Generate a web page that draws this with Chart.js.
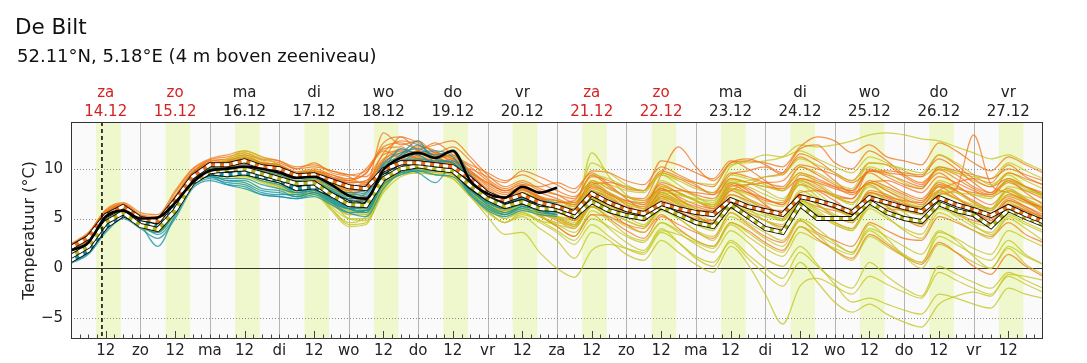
<!DOCTYPE html>
<html>
<head>
<meta charset="utf-8">
<script src="https://cdn.jsdelivr.net/npm/chart.js@4"></script>
<style>
html, body { margin: 0; padding: 0; background: #fff; }
#wrap { position: relative; width: 1087px; height: 363px; font-family: "DejaVu Sans", sans-serif; color: #111; }
#title { position: absolute; left: 15px; top: 14px; font-size: 21.5px; white-space: nowrap; }
#sub { position: absolute; left: 17px; top: 45px; font-size: 18px; white-space: nowrap; }
canvas { position: absolute; left: 0; top: 0; }
</style>
</head>
<body>
<div id="wrap">
  <canvas id="chart" width="1087" height="363" style="width:1087px;height:363px"></canvas>
  <div id="title">De Bilt</div>
  <div id="sub">52.11°N, 5.18°E (4 m boven zeeniveau)</div>
</div>
<script>
// time axis: hours since 14.12 00:00, one value every 6 hours
const stepH = 6;
const dayNames = ['za', 'zo', 'ma', 'di', 'wo', 'do', 'vr'];
const dateLabels = ['14.12', '15.12', '16.12', '17.12', '18.12', '19.12', '20.12',
  '21.12', '22.12', '23.12', '24.12', '25.12', '26.12', '27.12'];
const yTicks = [-5, 0, 5, 10];
const nowH = 10.7;
const dayFrom = 8.7, dayTo = 17.2;

// ensemble members (orange group), 14.12 00h .. 28.12 00h
const orange = [
  [2.3,3.4,5.6,6.4,5.2,5.0,7.2,9.6,10.8, 10.9,11.2,10.6,10.3,9.6,9.8,9.4,9.0, 9.5,12.6,13.2,11.8,11.4,10.8,9.4,8.0,7.2,7.9,7.0,6.8, 6.2,8.8,8.0,7.2,7.0,9.6,9.0,8.2,7.6,9.4,9.8,10.2,9.4,11.5,10.8,9.6,8.8,10.6,10.4,9.2,8.4,9.9,9.0,8.0,7.4,8.6,7.8,7.0],
  [2.0,3.0,5.3,6.2,5.0,4.6,6.8,9.4,10.5, 10.2,10.4,9.6,9.4,8.6,8.8,8.0,7.4, 8.2,10.4,11.8,11.6,11.0,11.4,9.8,8.2,7.4,8.2,7.6,7.0, 6.4,7.6,7.2,6.0,5.4,6.8,6.0,5.2,4.6,6.2,5.6,4.8,4.2,6.8,6.2,5.8,5.4,7.6,7.0,6.4,6.2,8.2,7.8,6.6,5.8,7.4,6.8,5.6],
  [2.5,3.6,5.8,6.5,5.4,5.2,7.6,9.9,10.9, 11.2,11.6,11.0,10.8,10.0,10.6,9.6,9.2, 8.4,13.6,12.4,12.8,11.6,12.2,10.8,9.0,8.0,8.6,7.8,7.4, 7.0,9.2,8.8,8.0,7.8,10.8,10.4,9.6,9.0,10.8,10.0,8.8,7.8,9.0,8.4,7.2,6.6,8.6,8.8,8.2,7.6,9.2,8.6,7.8,7.2,8.0,7.0,6.0],
  [1.9,2.9,5.1,6.0,4.8,4.4,6.5,9.0,10.2, 9.8,9.9,9.2,9.0,8.2,8.4,7.4,6.6, 7.6,9.6,10.8,11.0,10.8,10.6,9.2,7.6,6.6,7.0,6.0,5.2, 4.4,6.2,5.0,3.8,3.0,5.2,4.4,3.6,3.0,5.6,4.4,3.2,2.6,4.8,3.6,2.8,2.2,4.6,3.8,3.0,2.8,5.2,4.6,3.8,3.2,4.6,3.4,2.6],
  [2.2,3.2,5.4,6.3,5.1,4.8,7.0,9.5,10.6, 10.7,11.1,10.5,10.2,9.5,9.7,9.1,8.8, 10.0,12.0,12.2,11.2,10.6,11.0,9.6,8.6,7.8,8.4,8.2,8.6, 8.0,9.6,8.4,7.0,6.0,9.4,12.2,10.2,8.8,10.6,11.0,10.4,9.6,11.2,10.2,8.8,7.6,8.4,7.2,6.4,6.0,7.8,8.6,9.0,8.6,10.4,9.2,8.4],
  [2.0,3.1,5.2,6.1,4.9,4.7,6.9,9.3,10.4, 10.0,10.2,9.4,9.2,8.4,8.8,8.2,7.6, 8.0,10.2,11.4,12.2,11.8,10.4,8.8,7.4,6.6,7.2,6.4,5.8, 5.0,7.0,6.4,5.6,5.2,7.4,6.6,5.4,4.4,6.0,5.0,4.0,3.6,6.0,5.4,4.6,4.0,6.4,6.0,5.8,5.6,7.6,7.0,6.2,5.4,7.0,6.2,5.2],
  [2.4,3.5,5.7,6.4,5.3,5.1,7.3,9.7,10.7, 11.0,11.4,10.9,10.6,10.0,10.2,9.8,9.4, 9.2,11.4,11.8,11.0,10.2,9.8,8.6,7.2,6.4,7.4,7.0,6.2, 5.8,8.0,7.4,6.8,6.6,8.4,7.6,6.8,6.0,7.8,8.4,9.2,9.6,12.0,12.4,10.6,10.0,11.8,10.8,9.4,8.6,10.0,9.4,8.2,7.6,9.6,9.0,8.4],
  [2.1,3.0,5.2,6.1,4.9,4.6,6.7,9.2,10.3, 10.4,10.8,10.2,9.9,9.2,9.4,8.6,7.8, 7.2,9.0,10.2,10.8,10.4,10.6,8.4,6.8,5.8,6.4,5.6,4.8, 4.0,6.2,5.8,5.2,5.0,7.2,6.4,5.6,5.4,8.0,7.6,7.0,6.4,8.4,7.8,6.8,5.8,7.4,6.2,5.0,4.2,6.4,5.6,4.8,4.6,6.8,6.0,5.0],
  [2.3,3.3,5.5,6.3,5.1,4.9,7.1,9.5,10.6, 10.7,11.0,10.5,10.2,9.5,9.7,9.2,8.8, 9.6,11.8,11.0,10.2,9.8,10.2,10.0,9.2,8.6,9.8,9.2,8.4, 7.6,9.8,9.6,8.8,8.4,10.2,9.4,8.6,8.2,10.6,10.8,10.6,10.2,12.2,13.2,12.8,11.6,12.4,11.2,10.8,10.4,12.6,11.8,10.6,9.8,11.2,10.4,9.6],
  [2.0,2.9,5.1,6.0,4.8,4.5,6.6,9.1,10.2, 9.6,9.8,9.2,9.0,8.0,8.2,7.2,6.4, 7.0,8.8,10.4,11.4,11.6,11.0,9.6,7.8,6.2,6.6,5.4,4.2, 3.2,5.4,5.2,4.4,4.0,6.0,5.6,5.0,4.8,6.6,6.2,5.8,5.6,7.6,7.8,7.4,7.0,8.8,8.2,7.4,6.8,8.2,7.2,5.8,4.8,6.4,5.8,4.6],
  [2.2,3.2,5.4,6.2,5.0,4.8,7.0,9.4,10.5, 10.6,11.0,10.4,10.1,9.4,9.6,9.0,8.6, 8.8,10.8,12.0,11.4,10.8,10.6,9.0,7.6,7.0,7.6,6.8,6.4, 6.0,8.4,8.6,8.2,7.8,9.8,9.2,8.4,7.4,8.6,7.8,6.4,5.4,7.0,6.6,6.0,5.4,7.8,7.4,6.6,6.0,7.4,8.0,13.4,8.4,7.6,6.8,6.0],
  [2.1,3.1,5.3,6.2,5.0,4.7,6.9,9.3,10.4, 10.5,10.9,10.3,10.0,9.3,9.5,8.9,8.3, 8.6,10.6,11.4,11.0,10.4,10.8,9.4,7.8,6.8,7.4,6.4,5.6, 5.2,7.4,6.8,6.0,5.8,8.2,7.6,6.8,6.2,8.6,8.0,7.0,6.4,9.0,8.6,8.0,7.6,9.8,9.4,8.8,8.2,9.6,8.4,7.2,6.4,7.8,6.8,5.8],
  [1.9,2.8,5.0,5.9,4.7,4.3,6.4,8.9,10.0, 9.8,10.0,9.3,9.0,8.2,8.4,7.6,6.8, 6.8,8.4,9.8,10.4,10.6,10.0,8.6,7.0,5.8,6.6,5.8,5.0, 4.2,6.6,5.6,4.4,3.6,5.4,4.0,2.8,2.2,4.6,3.8,2.6,1.8,4.2,3.0,1.8,1.0,3.4,2.4,1.2,0.4,2.6,1.6,0.2,-0.6,1.4,0.2,-0.8],
  [2.2,3.3,5.5,6.3,5.1,4.8,7.0,9.4,10.5, 10.8,11.2,10.6,10.4,9.7,10.0,9.4,8.8, 8.6,11.6,12.8,12.4,11.2,10.4,9.8,8.4,7.6,8.0,7.2,6.6, 6.8,9.4,8.2,7.2,6.8,8.0,7.0,6.0,5.6,7.4,6.8,6.0,5.8,8.8,8.0,7.2,7.0,9.8,9.6,9.4,9.2,11.4,10.4,9.0,8.2,9.0,8.2,7.4],
  [2.4,3.5,5.9,6.6,5.6,5.4,7.8,10.0,11.0, 11.4,11.8,11.2,10.8,10.2,10.4,9.8,9.4, 9.8,12.2,12.6,12.0,12.4,12.8,11.2,9.4,8.2,8.8,8.0,7.4, 6.6,8.4,7.4,6.6,6.2,8.0,7.2,6.4,6.0,8.4,7.6,6.8,6.6,9.4,8.8,8.2,7.8,10.0,9.2,8.4,8.0,10.2,9.8,9.4,9.0,10.0,9.4,8.8],
  [2.0,3.0,5.0,6.0,4.8,4.5,6.6,9.0,10.1, 10.2,10.4,9.8,9.6,9.0,9.4,8.6,8.0, 8.4,10.8,13.2,12.6,11.6,11.2,10.2,8.8,7.8,8.4,7.2,6.2, 5.4,7.8,7.0,6.2,5.8,7.6,6.8,6.2,5.8,7.8,7.0,6.2,5.6,7.4,6.4,5.2,4.6,6.8,6.4,5.8,5.4,7.2,6.4,5.6,5.0,6.4,5.8,5.2],
  [2.3,3.4,5.6,6.4,5.3,5.0,7.2,9.6,10.6, 10.6,11.0,10.6,10.4,9.6,9.8,9.2,8.6, 8.8,11.0,11.6,11.8,12.6,11.4,10.4,9.6,8.8,9.4,8.6,7.8, 7.2,8.6,7.6,6.4,5.6,7.0,6.2,5.8,5.8,8.2,8.4,8.6,8.8,10.4,10.0,9.4,8.6,9.6,8.6,7.6,7.0,8.6,7.8,6.8,6.0,7.2,6.6,6.2],
  [1.9,2.9,5.2,6.1,4.9,4.6,6.8,9.2,10.3, 10.3,10.6,10.0,9.7,9.0,9.2,8.4,7.8, 8.0,9.8,10.6,11.0,10.8,10.6,9.0,7.6,7.0,7.8,7.2,6.8, 6.4,8.2,7.6,6.8,6.4,8.6,8.0,7.4,7.0,9.0,8.6,8.2,8.0,9.6,9.0,8.2,7.4,8.6,7.8,7.0,6.4,7.8,7.0,6.0,5.2,6.8,6.2,5.4],
  [2.2,3.3,5.5,6.3,5.2,4.9,7.1,9.5,10.6, 10.5,10.8,10.3,10.0,9.4,9.6,9.0,8.4, 8.2,10.0,11.2,11.6,11.4,11.0,9.8,8.6,7.8,8.0,7.0,6.0, 4.8,6.8,6.4,5.8,5.4,7.8,7.8,7.6,7.4,9.6,9.2,8.6,8.2,10.2,9.4,8.4,7.8,9.8,9.8,9.6,9.4,11.0,10.0,8.6,7.6,8.8,7.6,6.4],
  [2.1,3.1,5.2,6.1,5.0,4.7,6.9,9.3,10.4, 10.4,10.7,10.1,9.8,9.1,9.3,8.6,8.0, 7.8,9.4,10.8,11.8,11.2,10.4,8.8,7.2,6.2,7.0,6.4,5.8, 5.4,7.2,6.4,5.4,4.8,6.6,5.8,4.8,4.2,6.4,6.0,5.6,5.4,7.4,6.8,6.0,5.6,7.6,7.2,6.8,6.6,8.4,8.0,7.6,7.4,8.8,8.2,7.6]
];

// ensemble members (yellow-green group), 14.12 00h .. 28.12 00h
const yellow = [
  [1.3,2.3,4.7,5.7,4.4,4.0,5.9,8.7,9.8, 10.4,11.0,10.0,9.6,8.8,9.0,7.6,6.4, 5.8,8.6,10.0,10.4,10.0,10.2,8.4,6.8,5.6,6.2,5.2,4.4, 3.6,5.4,4.0,2.6,1.8,4.0,2.6,1.0,0.2,2.8,1.4,0.0,-1.0,1.6,0.2,-1.2,-2.0,0.6,-0.8,-2.0,-2.8,0.2,-0.6,-1.4,-2.0,-0.4,-1.2,-2.0],
  [1.0,2.0,4.4,5.4,4.1,3.6,5.6,8.4,9.6, 9.4,9.6,9.0,8.6,7.6,7.8,6.0,4.4, 4.6,7.8,9.6,10.2,10.2,9.8,7.6,5.8,4.6,5.2,4.0,2.8, 1.0,3.6,2.8,1.4,0.8,2.8,1.6,0.4,-0.4,2.2,0.4,-2.6,-5.6,-1.8,-1.0,-1.8,-2.6,-0.8,-1.6,-2.4,-3.0,-0.4,-1.2,-2.0,-2.6,-0.8,-1.6,-2.4],
  [1.1,2.1,4.5,5.5,4.2,3.8,5.7,8.5,9.7, 9.9,10.1,9.5,9.1,8.5,8.7,7.4,6.2, 5.4,8.2,9.4,9.8,9.6,9.4,7.8,6.2,5.0,5.6,4.6,3.6, 2.4,4.4,3.2,2.0,1.4,3.6,2.6,1.2,0.6,2.6,1.0,-0.6,-1.8,0.6,-1.4,-3.4,-4.4,-3.6,-4.6,-5.4,-5.9,-3.6,-2.8,-2.4,-2.8,-0.6,-0.8,-1.2],
  [1.2,2.2,4.6,5.6,4.3,3.9,5.8,8.6,9.8, 10.2,10.6,9.8,9.2,8.4,8.6,6.8,5.0, 4.8,7.6,9.2,9.6,9.4,9.0,7.2,5.2,3.4,3.6,1.6,0.0, -0.9,1.8,2.4,2.0,1.6,3.8,3.4,2.6,2.0,4.4,3.2,2.0,1.2,3.6,2.8,2.0,1.4,4.4,3.0,1.2,0.0,2.4,1.6,0.6,0.0,2.2,1.2,0.4],
  [1.4,2.4,4.8,5.8,4.5,4.1,6.0,8.8,9.9, 10.6,11.4,10.6,10.0,9.4,9.6,8.6,7.6, 6.8,9.6,10.8,11.2,10.6,10.4,9.0,7.6,6.8,7.6,7.0,6.8, 6.4,8.6,8.4,7.8,7.6,9.4,8.8,8.0,7.6,10.2,10.8,11.4,11.2,11.8,11.0,10.2,9.6,11.2,10.6,9.8,9.2,10.2,9.6,8.8,8.2,9.6,8.8,8.0],
  [1.3,2.3,4.7,5.7,4.4,4.0,5.9,8.7,9.8, 10.0,10.2,9.7,9.3,8.7,8.9,7.8,6.8, 6.6,9.4,10.4,10.6,10.2,10.0,8.8,7.4,6.6,7.2,6.6,6.4, 6.2,10.6,9.6,8.4,7.8,9.6,9.0,8.6,8.4,10.4,10.6,10.8,11.2,12.4,12.2,12.4,12.8,13.4,13.6,13.4,13.0,12.8,12.2,11.6,11.0,11.4,10.6,9.8],
  [1.1,2.1,4.5,5.5,4.2,3.8,5.7,8.5,9.6, 9.2,9.4,8.8,8.2,7.4,7.6,6.4,5.4, 6.0,9.2,10.6,10.8,10.4,10.0,8.2,6.6,5.8,6.4,5.8,5.2, 4.6,7.0,6.4,5.6,5.2,7.2,6.6,5.8,5.2,7.4,6.6,5.6,4.8,6.8,5.8,4.6,4.0,6.4,5.2,3.8,3.0,5.6,4.8,3.8,3.0,5.2,4.4,3.6],
  [1.2,2.2,4.6,5.6,4.3,3.9,5.8,8.6,9.7, 9.9,10.0,9.5,9.0,8.5,8.6,7.2,6.2, 6.8,9.8,10.4,10.2,9.8,9.6,8.0,6.4,5.6,6.6,6.2,5.8, 5.6,11.6,9.2,7.4,6.4,8.0,7.0,5.6,4.8,6.8,6.2,5.4,5.0,7.8,7.0,6.4,6.0,8.6,8.0,7.2,6.6,8.8,8.2,7.4,7.0,9.0,8.2,7.4],
  [1.0,2.0,4.4,5.4,4.1,3.7,5.6,8.4,9.5, 9.0,9.2,8.6,8.0,7.2,7.4,5.8,4.2, 4.4,8.0,9.8,10.2,10.0,9.6,7.8,6.0,5.2,6.0,5.4,5.0, 4.4,6.6,5.8,4.8,4.2,6.0,5.0,3.8,3.2,5.6,4.6,3.6,2.8,5.0,4.0,2.6,1.6,3.8,2.6,1.4,0.6,3.6,3.0,2.0,1.4,3.8,3.0,2.2],
  [1.3,2.3,4.7,5.7,4.4,4.0,5.9,8.7,9.8, 10.4,10.8,10.2,9.6,9.0,9.2,7.8,6.6, 6.2,8.8,9.8,10.0,9.8,9.4,7.8,6.2,5.4,6.2,5.2,4.2, 3.2,5.8,4.8,3.4,2.8,4.6,3.6,2.4,1.6,3.8,2.6,1.0,0.2,2.2,0.4,-1.6,-3.4,-3.0,-3.6,-4.2,-4.6,-2.6,-3.0,-3.6,-4.0,-2.0,-2.6,-3.0],
  [1.4,2.4,4.8,5.8,4.5,4.1,6.0,8.8,9.9, 10.8,11.6,10.8,10.2,9.6,9.8,8.8,7.8, 6.6,9.2,10.2,10.4,10.0,9.8,8.6,7.2,6.4,7.0,6.4,6.2, 5.8,7.6,6.6,5.2,4.4,6.2,5.4,4.4,3.8,6.4,5.6,4.8,4.4,6.6,5.6,4.4,3.8,6.0,5.0,4.0,3.4,6.0,5.4,4.6,4.2,6.6,5.8,5.0],
  [1.2,2.2,4.6,5.6,4.3,3.9,5.8,8.6,9.7, 9.4,9.6,9.0,8.4,7.6,7.8,6.6,5.4, 5.4,8.4,9.6,10.0,9.8,9.6,8.0,6.4,5.6,6.4,5.6,5.2, 4.8,6.8,6.0,5.4,5.2,7.6,7.4,7.0,6.8,9.0,8.6,7.8,7.0,8.6,7.6,6.2,5.2,7.6,6.8,5.6,4.6,6.6,5.6,4.4,3.4,5.0,4.0,2.8],
  [1.1,2.1,4.5,5.5,4.2,3.8,5.7,8.5,9.6, 9.8,9.9,9.4,9.0,8.4,8.5,7.2,6.0, 5.6,8.4,10.2,10.8,10.4,10.2,8.6,7.0,6.0,7.0,6.6,6.6, 6.6,9.4,9.0,8.2,7.8,9.4,8.4,7.2,6.4,8.4,8.8,9.2,9.4,11.0,10.4,9.6,8.8,10.2,9.6,8.6,8.0,10.0,9.6,9.2,9.0,10.6,9.8,9.0],
  [1.2,2.2,4.6,5.6,4.3,3.9,5.8,8.6,9.7, 9.6,9.8,9.2,8.7,8.0,8.2,6.8,5.6, 6.0,8.6,9.8,10.2,9.8,9.6,8.0,6.6,5.8,6.4,5.6,5.0, 4.2,6.2,5.2,4.2,3.6,5.8,5.0,3.8,2.8,5.2,4.2,3.0,2.2,4.8,3.4,1.8,0.8,3.2,2.2,1.2,0.6,3.2,2.4,1.4,0.8,2.8,1.4,0.4],
  [1.3,2.3,4.7,5.7,4.4,4.0,5.9,8.7,9.8, 10.2,10.6,10.0,9.6,9.0,9.2,8.0,7.0, 6.4,9.0,10.0,10.2,10.0,9.8,8.4,7.0,6.2,6.8,6.2,5.8, 5.2,8.8,8.0,7.2,6.8,8.8,8.0,7.2,6.6,9.4,9.0,8.4,7.8,10.2,9.6,8.6,8.0,10.6,10.4,10.0,9.6,11.4,10.6,9.4,8.4,9.4,8.2,7.2],
  [1.0,2.0,4.4,5.4,4.1,3.7,5.6,8.4,9.5, 9.2,9.3,8.7,8.2,7.4,7.6,6.0,4.6, 5.2,8.2,9.6,10.0,9.8,9.4,7.6,5.8,4.6,5.6,4.8,3.8, 2.8,5.0,4.2,3.2,2.6,4.6,3.8,2.8,2.2,4.6,3.6,2.4,1.6,4.2,3.4,2.4,1.6,4.0,3.2,2.2,1.4,3.8,2.8,1.2,0.0,2.0,0.4,-0.6],
  [1.4,2.5,4.9,5.9,4.6,4.2,6.2,9.0,10.2, 11.0,11.8,11.2,10.4,9.6,9.8,8.6,7.4, 7.0,9.4,10.6,11.0,10.8,10.6,9.2,7.8,7.0,7.6,6.8,6.2, 5.8,8.2,7.0,5.8,5.2,7.6,6.8,6.0,5.6,8.0,7.4,6.6,6.2,8.8,8.2,7.2,6.4,8.6,7.8,6.8,6.2,8.4,7.6,6.6,6.0,7.8,7.2,6.6],
  [1.1,2.1,4.5,5.5,4.2,3.8,5.8,8.6,9.7, 9.6,9.8,9.2,8.6,7.8,8.0,6.8,5.8, 5.8,8.6,9.4,9.6,9.4,9.2,7.6,6.0,5.0,5.8,5.4,5.2, 5.0,7.8,7.2,6.4,6.0,8.2,7.6,6.8,6.2,8.0,7.0,5.8,5.0,7.2,6.4,5.4,4.8,7.0,6.2,5.2,4.6,6.8,6.4,6.0,5.8,7.4,6.6,5.8],
  [1.2,2.2,4.6,5.6,4.3,3.9,5.9,8.8,10.0, 10.6,11.2,10.4,9.8,9.0,9.2,7.8,6.6, 6.4,9.0,10.4,10.6,10.4,10.2,8.6,7.0,6.2,7.2,6.8,6.4, 6.0,8.4,7.6,6.6,6.0,7.8,7.4,6.8,6.4,8.8,8.6,8.2,7.8,9.6,8.6,7.4,6.6,8.2,7.4,6.6,6.0,7.6,7.0,6.4,6.0,8.2,7.8,7.4],
  [1.0,2.0,4.4,5.4,4.1,3.6,5.5,8.3,9.4, 9.2,9.4,8.8,8.2,7.4,7.6,6.2,5.0, 5.0,8.2,9.6,9.8,9.4,9.0,7.2,5.6,4.6,5.4,4.8,4.4, 4.0,6.2,5.6,4.8,4.2,6.0,5.4,4.6,4.0,6.2,5.8,5.2,4.8,6.8,6.0,5.2,4.6,6.6,5.8,5.0,4.4,6.2,5.2,4.2,3.6,5.4,4.6,3.8],
  [1.3,2.3,4.7,5.7,4.4,4.0,6.0,8.8,9.9, 10.4,11.0,10.4,10.0,9.2,9.4,8.2,7.0, 6.6,8.8,9.8,10.0,9.6,9.4,8.0,6.8,6.0,6.6,6.0,5.6, 5.4,7.0,6.2,5.6,5.2,7.0,6.8,6.6,6.4,8.6,8.2,7.4,6.8,8.4,7.2,6.0,5.2,7.2,6.4,5.8,5.4,7.8,7.6,7.4,7.2,8.8,8.0,7.2],
  [1.2,2.2,4.6,5.6,4.3,3.9,5.8,8.6,9.7, 9.8,10.0,9.4,8.9,8.2,8.4,7.0,5.8, 5.6,8.4,10.4,10.8,10.2,9.8,8.0,6.4,5.4,6.0,5.2,4.6, 4.4,7.2,6.6,5.8,5.4,7.4,6.4,5.2,4.4,6.8,6.0,4.8,4.0,6.4,5.4,4.4,3.8,6.2,5.6,5.0,4.6,7.0,6.6,6.2,6.0,7.8,7.0,6.2]
];

// ensemble members (teal group), 14.12 00h .. 21.12 00h
const teal = [
  [0.7,1.6,4.0,5.8,4.4,2.2,5.4,8.6,9.4, 9.2,9.4,8.8,8.4,7.6,7.8,6.8,6.0, 6.2,9.6,10.6,10.8,10.4,10.2,8.0,6.6,6.0,6.4,6.0,5.8],
  [0.9,1.9,4.4,5.6,4.8,4.4,6.6,9.2,10.0, 9.8,10.0,9.6,9.2,8.4,8.6,8.0,7.4, 7.6,10.4,11.2,12.4,11.0,10.6,8.6,7.2,6.4,6.8,6.2,5.8],
  [0.6,1.6,3.8,5.2,4.2,3.6,5.6,8.2,9.0, 8.6,8.4,7.6,7.4,7.4,7.8,7.0,6.2, 6.0,8.8,9.8,10.2,9.8,9.6,7.8,6.6,6.0,6.6,6.4,6.2],
  [1.0,2.0,4.4,5.6,4.8,4.6,6.8,9.0,9.8, 9.6,9.8,9.4,9.0,8.2,8.4,7.6,6.8, 6.8,9.8,12.0,11.4,10.6,10.8,9.0,7.6,6.8,7.2,6.8,6.6],
  [0.8,1.8,4.2,5.4,4.6,4.0,6.0,8.6,9.4, 8.8,8.8,8.0,7.8,7.2,7.6,6.6,5.6, 5.2,8.0,9.6,10.0,10.2,10.0,8.0,6.4,5.6,6.2,5.8,5.6],
  [0.7,1.7,4.1,5.3,4.5,4.1,6.2,8.8,9.6, 9.4,9.6,9.2,8.8,8.0,8.2,7.4,6.6, 6.6,9.4,10.0,9.6,8.6,10.4,8.6,7.4,6.6,7.0,6.4,6.2],
  [0.9,1.9,4.3,5.5,4.7,4.3,6.4,9.0,9.8, 9.6,9.8,9.4,9.0,8.2,8.4,7.8,7.2, 7.4,10.2,10.8,11.0,10.6,10.2,8.4,7.0,6.2,6.6,6.0,5.6],
  [0.8,1.8,4.2,5.4,4.6,3.8,5.8,8.4,9.2, 8.4,8.0,7.4,7.2,7.0,7.4,6.6,6.0, 6.4,9.0,10.0,10.2,10.0,9.8,8.2,7.0,6.4,6.8,6.2,6.0],
  [0.6,1.6,4.0,5.2,4.4,4.0,6.0,8.6,9.4, 9.2,9.4,9.0,8.6,7.8,8.0,7.0,6.0, 5.6,8.6,9.8,10.2,10.0,9.8,7.6,6.2,5.4,6.0,5.6,5.4],
  [1.0,2.0,4.5,5.7,4.9,4.5,6.6,9.2,10.0, 9.8,10.0,9.6,9.2,8.4,8.6,7.8,7.0, 7.0,9.8,10.6,10.8,10.4,10.2,8.6,7.2,6.6,7.0,6.4,6.2],
  [0.5,1.4,3.6,5.0,4.0,3.0,5.0,8.0,8.8, 8.4,8.2,7.4,7.2,7.0,7.2,6.4,5.6, 5.8,9.0,10.6,11.6,11.8,11.2,8.8,7.0,6.0,6.4,5.8,5.4],
  [1.1,2.2,4.8,6.0,5.0,4.6,6.8,9.4,10.2, 10.0,10.4,9.8,9.4,8.8,9.0,8.2,7.6, 7.8,10.6,11.6,12.0,11.4,11.8,9.4,7.6,6.8,7.4,6.8,6.4],
  [0.7,1.7,4.0,5.4,4.4,3.4,5.2,8.4,9.2, 9.0,9.0,8.4,8.0,7.6,8.0,7.2,6.4, 6.4,9.2,9.6,9.8,9.4,9.2,7.4,6.0,5.4,6.2,5.8,5.4],
  [0.8,1.8,4.2,5.6,4.6,4.2,6.4,8.8,9.6, 9.6,9.8,9.0,8.6,7.8,8.0,7.0,6.2, 6.2,9.8,11.4,12.8,10.4,10.0,8.0,6.8,6.0,6.6,6.2,6.0],
  [0.6,1.5,3.9,5.3,4.3,3.8,5.8,8.4,9.2, 8.8,8.6,7.8,7.6,7.2,7.6,6.8,6.0, 5.8,8.4,9.4,9.8,9.8,9.6,7.4,5.8,5.2,5.8,5.4,5.2],
  [0.9,2.0,4.4,5.6,4.8,4.2,6.4,9.0,9.8, 9.6,9.6,9.0,8.8,8.2,8.4,7.6,7.0, 7.2,9.6,10.2,10.6,10.8,10.6,8.8,7.4,6.6,7.0,6.4,6.0]
];

// group medians and the deterministic run
const medOrange = [2.1,3.1,5.3,6.2,5.0,4.7,6.8,9.2,10.4, 10.4,10.8,10.2,10.0,9.3,9.4,8.8,8.2, 8.0,9.9,10.6,10.6,10.4,10.2,9.0,7.5,6.8,7.4,6.6,6.2, 5.6,7.5,6.6,5.9,5.5,6.5,6.0,5.6,5.4,6.9,6.2,5.8,5.4,7.2,6.8,6.3,5.6,7.1,6.6,6.1,5.7,7.1,6.4,5.9,5.3,6.2,5.4,4.7];
const medYellow = [1.2,2.2,4.6,5.6,4.3,3.9,5.8,8.6,9.7, 9.9,10.0,9.5,9.0,8.5,8.6,7.4,6.4, 6.3,9.0,10.0,10.3,10.0,9.8,8.3,7.0,6.2,6.7,6.0,5.9, 5.2,6.7,5.8,5.3,5.0,6.2,5.4,4.6,4.2,6.4,5.2,4.0,3.6,6.4,5.0,5.0,5.0,6.7,5.6,5.0,4.7,6.5,5.8,5.4,4.2,5.9,5.1,4.4];
const medTeal = [0.8,1.8,4.2,5.4,4.6,4.2,6.2,8.8,9.6, 9.4,9.6,9.2,8.8,8.0,8.2,7.4,6.6, 6.4,9.2,10.2,10.4,10.1,9.9,8.2,7.0,6.3,6.7,6.2,6.0];
const detRun = [1.8,2.6,5.2,5.8,5.0,5.1,6.6,8.6,9.8, 10.0,10.2,10.0,9.6,9.1,9.2,8.4,7.3, 7.0,9.9,11.1,11.6,11.1,11.8,8.8,7.5,7.1,8.2,7.6,8.1];

const colOrange = 'rgba(239,118,24,0.75)';
const colYellow = 'rgba(196,196,26,0.75)';
const colTeal = 'rgba(24,148,162,0.78)';

function pts(arr) {
  return arr.map((v, i) => ({ x: i * stepH, y: v }));
}

function member(arr, color) {
  return { data: pts(arr), borderColor: color, borderWidth: 1.25, cubicInterpolationMode: 'monotone', pointRadius: 0 };
}

// median drawn as black edge, coloured core and white dashes
function median(arr, color) {
  return [
    { data: pts(arr), borderColor: '#111', borderWidth: 5, tension: 0, pointRadius: 0 },
    { data: pts(arr), borderColor: color, borderWidth: 3, tension: 0, pointRadius: 0 },
    { data: pts(arr), borderColor: '#fff', borderWidth: 3, borderDash: [5, 4], tension: 0, pointRadius: 0 }
  ];
}

// built bottom-to-top; Chart.js paints the first dataset last, so reverse at the end
const layers = [];
for (let i = 0; i < Math.max(orange.length, yellow.length); i++) {
  if (yellow[i]) layers.push(member(yellow[i], colYellow));
  if (orange[i]) layers.push(member(orange[i], colOrange));
}
teal.forEach(a => layers.push(member(a, colTeal)));
layers.push(...median(medTeal, '#1a8c9a'));
layers.push(...median(medYellow, '#b4b41c'));
layers.push(...median(medOrange, '#e8701a'));
layers.push({ data: pts(detRun), borderColor: '#000', borderWidth: 2.6, cubicInterpolationMode: 'monotone', pointRadius: 0 });
const datasets = layers.reverse();

// background, daylight bands, grid lines, frame, ticks and the day labels on top
const decor = {
  id: 'decor',
  beforeDraw(chart) {
    const { ctx, chartArea: a, scales: { x, y } } = chart;
    ctx.save();
    ctx.fillStyle = '#fafafa';
    ctx.fillRect(a.left, a.top, a.width, a.height);
    ctx.fillStyle = '#eff7cc';
    for (let d = 0; d < 14; d++) {
      const x0 = x.getPixelForValue(d * 24 + dayFrom);
      const x1 = x.getPixelForValue(d * 24 + dayTo);
      ctx.fillRect(x0, a.top, x1 - x0, a.height);
    }
    ctx.lineWidth = 1;
    ctx.strokeStyle = '#b4b4b4';
    for (let d = 1; d < 14; d++) {
      const px = Math.round(x.getPixelForValue(d * 24)) + 0.5;
      ctx.beginPath(); ctx.moveTo(px, a.top); ctx.lineTo(px, a.bottom); ctx.stroke();
    }
    yTicks.forEach(v => {
      const py = Math.round(y.getPixelForValue(v)) + 0.5;
      ctx.beginPath();
      if (v === 0) { ctx.setLineDash([]); ctx.strokeStyle = '#333'; }
      else { ctx.setLineDash([1, 2]); ctx.strokeStyle = '#8a8a8a'; }
      ctx.moveTo(a.left, py); ctx.lineTo(a.right, py); ctx.stroke();
    });
    ctx.restore();
  },
  afterDatasetsDraw(chart) {
    const { ctx, chartArea: a, scales: { x } } = chart;
    ctx.save();
    // now line
    const nx = x.getPixelForValue(nowH);
    ctx.strokeStyle = '#000'; ctx.lineWidth = 1.5; ctx.setLineDash([4, 3]);
    ctx.beginPath(); ctx.moveTo(nx, a.top); ctx.lineTo(nx, a.bottom); ctx.stroke();
    ctx.setLineDash([]);
    // frame
    ctx.strokeStyle = '#333'; ctx.lineWidth = 1;
    ctx.strokeRect(Math.round(a.left) + 0.5, Math.round(a.top) + 0.5, Math.round(a.width) - 1, Math.round(a.height) - 1);
    // 3-hourly tick marks pointing up from the bottom
    ctx.strokeStyle = '#444';
    for (let h = 3; h < 336; h += 3) {
      const px = Math.round(x.getPixelForValue(h)) + 0.5;
      const len = h % 24 === 12 ? 8 : 4.5;
      ctx.beginPath(); ctx.moveTo(px, a.bottom); ctx.lineTo(px, a.bottom - len); ctx.stroke();
    }
    ctx.restore();
  },
  afterDraw(chart) {
    const { ctx, scales: { x } } = chart;
    ctx.save();
    ctx.font = '15px "DejaVu Sans"';
    ctx.textAlign = 'center';
    ctx.textBaseline = 'alphabetic';
    for (let d = 0; d < 14; d++) {
      const px = x.getPixelForValue(d * 24 + 12);
      const name = dayNames[d % 7];
      ctx.fillStyle = (name === 'za' || name === 'zo') ? '#d42222' : '#222';
      ctx.fillText(name, px, 97);
      ctx.fillText(dateLabels[d], px, 115.5);
    }
    ctx.restore();
  }
};

const tickFont = { family: 'DejaVu Sans', size: 15 };

new Chart(document.getElementById('chart'), {
  type: 'line',
  data: { datasets },
  options: {
    responsive: false,
    animation: false,
    devicePixelRatio: 1,
    layout: { padding: { top: 122, right: 44, bottom: 0, left: 0 } },
    plugins: { legend: { display: false }, tooltip: { enabled: false } },
    elements: { point: { radius: 0 } },
    scales: {
      x: {
        type: 'linear', min: 0, max: 336,
        grid: { display: false, drawTicks: false },
        border: { display: false },
        afterBuildTicks: s => { const t = []; for (let h = 12; h < 336; h += 12) t.push({ value: h }); s.ticks = t; },
        afterFit: s => { s.height = 24; },
        ticks: {
          autoSkip: false, maxRotation: 0, padding: 3, color: '#222', font: tickFont,
          callback: v => (v % 24 === 12 ? '12' : dayNames[(v / 24) % 7])
        }
      },
      y: {
        min: -7.1, max: 14.7,
        grid: { display: false, drawTicks: false },
        border: { display: false },
        afterBuildTicks: s => { s.ticks = yTicks.map(v => ({ value: v })); },
        afterFit: s => { s.width = 71; },
        ticks: {
          padding: 8, color: '#222', font: tickFont,
          callback: v => (v < 0 ? '\u2212' + Math.abs(v) : String(v))
        },
        title: {
          display: true, text: 'Temperatuur (°C)', color: '#222',
          font: { family: 'DejaVu Sans', size: 16 }, padding: { top: 20, bottom: 0 }
        }
      }
    }
  },
  plugins: [decor]
});
</script>
</body>
</html>
